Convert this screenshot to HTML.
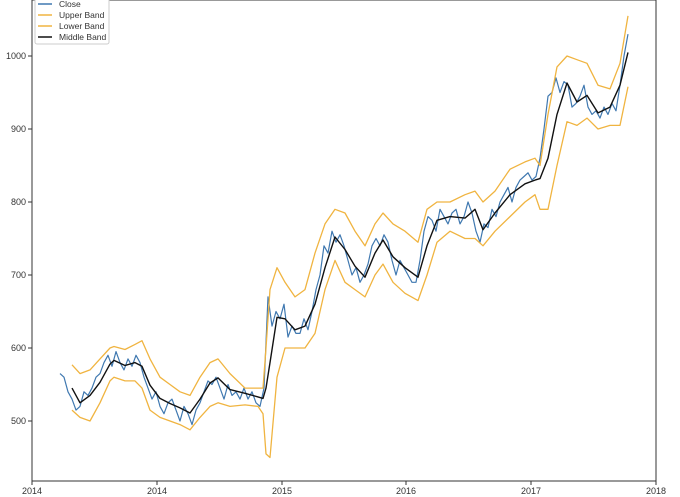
<!DOCTYPE html>
<html><head><meta charset="utf-8"><style>
body{margin:0;background:#fff;}
svg{display:block;font-family:"Liberation Sans","DejaVu Sans",sans-serif;}
</style></head><body>
<svg id="chart" width="680" height="497"></svg>
<script>
const xPos=[72,80,90,100,110,114,125,135,142,150,160,170,180,190,200,210,218,230,245,258,263,266,270,277,285,295,305,315,325,335,345,355,365,375,383,393,405,418,427,437,450,465,475,483,495,510,525,535,540,548,557,567,577,587,598,610,620,628];
const middle=[545,525,535,553,578,583,576,580,575,549,531,524,518,511,530,552,559,543,538,533,531,545,580,642,640,625,630,660,710,752,735,712,697,730,748,725,710,697,740,775,780,778,790,762,785,810,825,830,832,860,920,963,937,946,922,930,960,1005];
const upper=[577,565,570,585,600,602,598,605,610,585,560,550,540,535,560,580,585,565,545,545,545,600,680,710,690,670,680,730,770,790,785,760,740,770,785,770,760,745,790,800,800,810,815,800,815,845,855,860,850,920,985,1000,995,990,960,955,990,1055];
const lower=[515,505,500,525,555,560,555,555,545,515,505,500,495,488,505,520,525,520,522,520,510,455,450,560,600,600,600,620,680,720,690,680,670,700,715,690,675,665,700,745,760,750,750,740,760,780,800,810,790,790,850,910,905,915,900,905,905,958];
const closeX0=60, closeStep=4;
const close=[565,560,540,530,515,520,540,535,545,560,
565,580,590,575,595,580,570,585,575,590,
580,560,545,530,540,520,510,525,530,515,
500,520,510,495,515,525,540,555,550,560,
545,530,550,535,540,530,545,530,540,525,
520,545,670,630,650,640,660,615,630,620,
620,640,625,650,680,700,740,730,760,745,
755,740,720,700,710,690,700,715,740,750,
740,755,745,720,700,720,710,700,690,690,
720,760,780,775,760,790,780,770,785,790,
770,780,800,785,760,745,770,765,790,780,
800,810,820,800,820,830,835,840,830,835,
860,900,945,950,970,950,965,960,930,935,
945,960,930,920,925,915,930,920,935,925,
960,1000,1030];
const yTicks=[500,600,700,800,900,1000];
const xTickLabels=["2014","2014","2015","2016","2017","2018"];
const xTickPos=[32,157,282,406,531,656];

const svg=document.getElementById('chart');
const NS='http://www.w3.org/2000/svg';
const yS=v=>421-(v-500)*0.73;
function mk(t,a,p){const e=document.createElementNS(NS,t);for(const k in a)e.setAttribute(k,a[k]);(p||svg).appendChild(e);return e;}

const axis=mk('rect',{x:32,y:0,width:624,height:481,fill:'none',stroke:'#333','stroke-width':1});



yTicks.forEach(v=>{
 const y=yS(v);
 const l=mk('line',{x1:28,x2:32,y1:y,y2:y,stroke:'#333'});
 
 
 const t=mk('text',{x:26,y:y+3,'font-size':9,'text-anchor':'end',fill:'#333'});
 t.textContent=v;
 
 
});
xTickLabels.forEach((s,i)=>{
 const x=xTickPos[i];
 const l=mk('line',{x1:x,x2:x,y1:481,y2:485,stroke:'#333'});
 
 
 const t=mk('text',{x:x,y:494,'font-size':9,'text-anchor':'middle',fill:'#333'});
 t.textContent=s;
 
 
});
function line(arr,xs,color,name,w){
 const d=arr.map((v,i)=>(i?'L':'M')+xs(i)+','+yS(v).toFixed(1)).join('');
 const p=mk('path',{d:d,fill:'none',stroke:color,'stroke-width':w,'stroke-linejoin':'round'});
 
 
}
line(close,i=>closeX0+i*closeStep,'#3f78b0','close-line',1.2);
line(upper,i=>xPos[i],'#f0b440','upper-band-line',1.3);
line(lower,i=>xPos[i],'#f0b440','lower-band-line',1.3);
line(middle,i=>xPos[i],'#111','middle-band-line',1.4);

const lg=mk('g',{});


mk('rect',{x:35,y:-3,width:74,height:47,fill:'#fff',stroke:'#ccc',rx:2},lg);
[['Close','#3f78b0'],['Upper Band','#f0b440'],['Lower Band','#f0b440'],['Middle Band','#111']].forEach((e,i)=>{
 const y=4+i*11;
 const l=mk('line',{x1:38,x2:52,y1:y,y2:y,stroke:e[1],'stroke-width':1.5},lg);
 
 
 const t=mk('text',{x:59,y:y+3,'font-size':8.5,fill:'#333'},lg);
 t.textContent=e[0];
 
 
});
</script>
</body></html>
